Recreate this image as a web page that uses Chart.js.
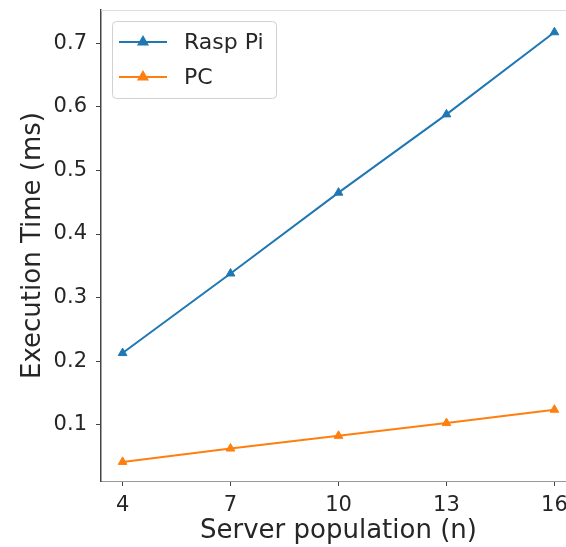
<!DOCTYPE html>
<html>
<head>
<meta charset="utf-8">
<script src="https://cdn.jsdelivr.net/npm/chart.js@4.4.1/dist/chart.umd.min.js"></script>
<style>
  html, body { margin: 0; padding: 0; background: #fff; }
  #wrap { width: 566px; height: 547px; overflow: hidden; position: relative; }
  #box { width: 600px; height: 547px; }
</style>
</head>
<body>
<div id="wrap"><div id="box"><canvas id="execChart"></canvas></div></div>
<script>
// data
var population = [4, 7, 10, 13, 16];
var raspPi = [0.213, 0.338, 0.465, 0.588, 0.717];
var pc = [0.042, 0.063, 0.083, 0.103, 0.124];
var xTicks = [4, 7, 10, 13, 16];
var yTicks = [0.1, 0.2, 0.3, 0.4, 0.5, 0.6, 0.7];

var textColor = '#262626';
var fontFam = "'DejaVu Sans', sans-serif";

function toPoints(vals) {
    var pts = [];
    for (var i = 0; i < vals.length; i++) {
        pts.push({ x: population[i], y: vals[i] });
    }
    return pts;
}

// top spine + legend box drawn in the corner like matplotlib
var frame = {
    id: 'frame',
    afterDraw: function (chart) {
        var ctx = chart.ctx;
        var a = chart.chartArea;
        ctx.save();
        ctx.strokeStyle = '#dddddd';
        ctx.lineWidth = 1;
        ctx.beginPath();
        ctx.moveTo(a.left, a.top + 0.5);
        ctx.lineTo(a.right, a.top + 0.5);
        ctx.stroke();

        var bx = a.left + 11, by = a.top + 11, bw = 164, bh = 77;
        ctx.beginPath();
        ctx.roundRect(bx + 0.5, by + 0.5, bw, bh, 4);
        ctx.fillStyle = 'rgba(255,255,255,0.8)';
        ctx.fill();
        ctx.strokeStyle = '#d0d0d0';
        ctx.stroke();

        var sets = chart.data.datasets;
        for (var i = 0; i < sets.length; i++) {
            var y = by + 21 + i * 35;
            ctx.strokeStyle = sets[i].borderColor;
            ctx.lineWidth = 2;
            ctx.beginPath();
            ctx.moveTo(bx + 7, y);
            ctx.lineTo(bx + 55, y);
            ctx.stroke();
            ctx.fillStyle = sets[i].borderColor;
            ctx.strokeStyle = sets[i].borderColor;
            Chart.helpers.drawPoint(ctx, { pointStyle: 'triangle', radius: 5, borderWidth: 1, rotation: 0 }, bx + 31, y);
            ctx.fillStyle = textColor;
            ctx.font = '22px ' + fontFam;
            ctx.textBaseline = 'middle';
            ctx.textAlign = 'left';
            ctx.fillText(sets[i].label, bx + 72, y + 1);
        }
        ctx.restore();
    }
};

new Chart(document.getElementById('execChart'), {
    type: 'line',
    data: {
        datasets: [
            {
                label: 'Rasp Pi',
                data: toPoints(raspPi),
                borderColor: '#1f77b4',
                backgroundColor: '#1f77b4',
                borderWidth: 2,
                pointStyle: 'triangle',
                pointRadius: 5,
                pointBorderWidth: 1,
                tension: 0
            },
            {
                label: 'PC',
                data: toPoints(pc),
                borderColor: '#ff7f0e',
                backgroundColor: '#ff7f0e',
                borderWidth: 2,
                pointStyle: 'triangle',
                pointRadius: 5,
                pointBorderWidth: 1,
                tension: 0
            }
        ]
    },
    options: {
        responsive: true,
        maintainAspectRatio: false,
        animation: false,
        layout: { padding: { top: 10, right: 24, left: 0, bottom: 0 } },
        plugins: {
            legend: { display: false },
            tooltip: { enabled: false }
        },
        scales: {
            x: {
                type: 'linear',
                min: 3.4,
                max: 16.6,
                afterBuildTicks: function (scale) {
                    scale.ticks = xTicks.map(function (v) { return { value: v }; });
                },
                afterFit: function (scale) {
                    scale.height = 66;
                    scale.paddingLeft = 0;
                    scale.paddingRight = 0;
                },
                grid: { drawOnChartArea: false, drawTicks: true, tickLength: 5, tickColor: '#444' },
                border: { display: true, color: '#999', width: 1 },
                ticks: {
                    color: textColor,
                    font: { family: fontFam, size: 21 },
                    padding: 7,
                    maxRotation: 0,
                    callback: function (v) { return String(v); }
                },
                title: {
                    display: true,
                    text: 'Server population (n)',
                    color: textColor,
                    font: { family: fontFam, size: 26 },
                    padding: { top: 0, bottom: 0 }
                }
            },
            y: {
                min: 0.012,
                max: 0.752,
                afterBuildTicks: function (scale) {
                    scale.ticks = yTicks.map(function (v) { return { value: v }; });
                },
                afterFit: function (scale) {
                    scale.width = 101;
                    scale.paddingTop = 0;
                    scale.paddingBottom = 0;
                },
                grid: { drawOnChartArea: false, drawTicks: true, tickLength: 5, tickColor: '#444' },
                border: { display: true, color: '#444', width: 1.5 },
                ticks: {
                    color: textColor,
                    font: { family: fontFam, size: 21 },
                    padding: 9,
                    callback: function (v) { return v.toFixed(1); }
                },
                title: {
                    display: true,
                    text: 'Execution Time (ms)',
                    color: textColor,
                    font: { family: fontFam, size: 26 },
                    padding: { top: 18, bottom: 0 }
                }
            }
        }
    },
    plugins: [frame]
});
</script>
</body>
</html>
